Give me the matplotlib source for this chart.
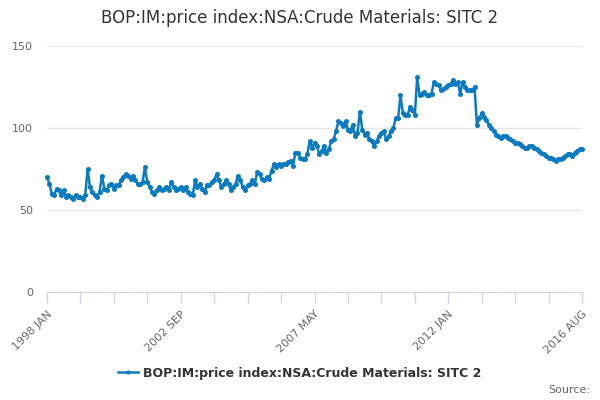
import matplotlib
matplotlib.use("Agg")
import matplotlib.pyplot as plt

title = "BOP:IM:price index:NSA:Crude Materials: SITC 2"
series_name = "BOP:IM:price index:NSA:Crude Materials: SITC 2"
tick_labels = ["1998 JAN", "2002 SEP", "2007 MAY", "2012 JAN", "2016 AUG"]
y_ticks = [0, 50, 100, 150]

values = [
    70, 66, 60, 59, 63, 62, 59, 62, 58, 59, 58, 57, 59, 58, 58, 57, 59, 75, 64, 61,
    59, 58, 61, 71, 63, 62, 65, 66, 63, 65, 65, 68, 70, 72, 71, 69, 71, 68, 66, 66,
    67, 76, 67, 64, 61, 60, 62, 64, 62, 63, 64, 62, 67, 64, 62, 63, 64, 62, 64, 61,
    60, 59, 68, 64, 66, 63, 61, 65, 65, 67, 68, 72, 68, 64, 66, 68, 66, 62, 64, 66,
    71, 68, 64, 62, 65, 66, 68, 66, 73, 72, 69, 68, 70, 69, 74, 78, 76, 78, 77, 78,
    78, 79, 80, 77, 85, 85, 82, 81, 81, 84, 92, 88, 91, 89, 84, 86, 89, 85, 87, 92,
    93, 98, 104, 103, 101, 104, 99, 98, 102, 95, 97, 110, 99, 96, 97, 93, 92, 89, 92, 95,
    97, 98, 93, 95, 98, 100, 106, 106, 120, 109, 108, 108, 113, 111, 108, 131, 120, 121, 122, 120,
    120, 121, 128, 127, 126, 123, 124, 125, 126, 127, 129, 127, 128, 121, 128, 125, 123, 123, 123, 125,
    102, 106, 109, 107, 105, 102, 100, 98, 96, 95, 94, 95, 95, 94, 93, 92, 91, 91, 90, 89,
    88, 88, 89, 89, 88, 87, 86, 85, 84, 83, 82, 82, 81, 80, 81, 81, 82, 83, 84, 84,
    83, 85, 86, 87, 87,
]

line_color = "#0a7bc2"

fig = plt.figure(figsize=(6, 4), dpi=100)
ax = fig.add_axes([47 / 600, 1 - 292 / 400, 535 / 600, 246 / 400])

x = list(range(len(values)))
ax.plot(x, values, color=line_color, lw=1.8, marker="o", ms=2.6, zorder=3,
        label=series_name, clip_on=False)

ax.set_xlim(0, len(values) - 1)
ax.set_ylim(0, 150)
ax.set_yticks(y_ticks)
ax.set_yticklabels([str(v) for v in y_ticks], color="#666666", fontsize=8)
ax.tick_params(axis="y", length=0, pad=10)
ax.grid(axis="y", color="#e6e6e6", lw=1)
ax.set_axisbelow(True)

n = len(values) - 1
minor = list(range(0, n + 1, 14))
major = list(range(0, n + 1, 56))
ax.set_xticks(minor, minor=True)
ax.set_xticks(major)
ax.set_xticklabels(tick_labels, rotation=45, ha="right", va="top",
                   rotation_mode="anchor", color="#666666", fontsize=8)
ax.tick_params(axis="x", which="both", length=8, color="#ccd6eb", width=1, pad=4)

for s in ["top", "right", "left"]:
    ax.spines[s].set_visible(False)
ax.spines["bottom"].set_color("#ccd6eb")

fig.text(0.5, 1 - 18 / 400, title, ha="center", va="center",
         fontsize=12, color="#333333")

leg = fig.legend(loc="center", bbox_to_anchor=(0.5, 1 - 373 / 400), frameon=False,
                 prop={"size": 9, "weight": "bold"}, handlelength=1.6,
                 handletextpad=0.4, markerscale=0.8)
for t in leg.get_texts():
    t.set_color("#333333")

fig.text(590 / 600, 1 - 390 / 400, "Source:", ha="right", va="center",
         fontsize=8, color="#666666")

fig.savefig("out.png", dpi=100)
